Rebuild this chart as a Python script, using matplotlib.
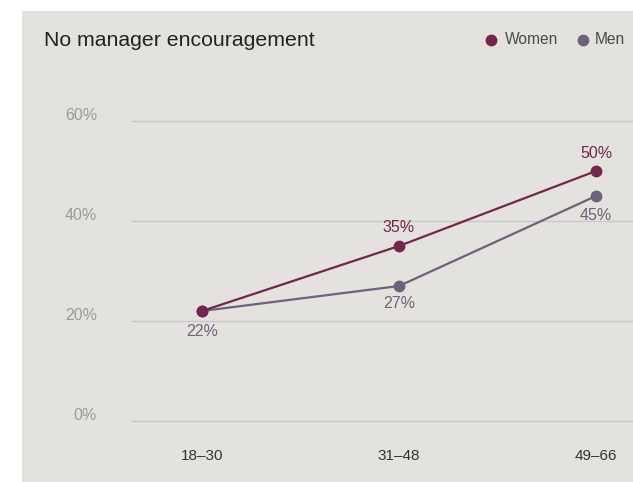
import matplotlib
matplotlib.use("Agg")
import matplotlib.pyplot as plt
from matplotlib.patches import Rectangle
from matplotlib.lines import Line2D

plt.rcParams['font.family'] = ['Liberation Sans', 'DejaVu Sans']

# Data
age_groups = ["18–30", "31–48", "49–66"]
women = [22, 35, 50]
men = [22, 27, 45]
y_ticks = [0, 20, 40, 60]
y_tick_labels = ["0%", "20%", "40%", "60%"]
title = "No manager encouragement"

WOMEN_C = "#73264a"
MEN_C = "#6e6179"
BG = "#e4e2df"
GRID_C = "#c8c8c6"

W, H = 633, 482
PX = 72 / 100  # points per pixel
fig = plt.figure(figsize=(W / 100, H / 100), dpi=100, facecolor="white")

# gray panel behind everything
panel = Rectangle((22 / W, 0), 1 - 22 / W, 1 - 11 / H,
                  transform=fig.transFigure, facecolor=BG,
                  edgecolor="none", zorder=-10)
fig.add_artist(panel)

# plot area: gridlines start at 132px, y=0 sits at 421px
ax = fig.add_axes([132 / W, (H - 421) / H, (633 - 132) / W, (421 - 60) / H])
ax.set_facecolor("none")
x = list(range(len(age_groups)))
ax.set_xlim((132 - 202) / 197, (633 - 202) / 197)
ax.set_ylim(0, (421 - 60) / 5)
ax.axis("off")

for t in y_ticks:
    ax.axhline(t, color=GRID_C, lw=1.0, zorder=1, clip_on=False)

ax.plot(x, men, color=MEN_C, lw=1.6, marker="o", ms=7.5, zorder=3, clip_on=False)
ax.plot(x, women, color=WOMEN_C, lw=1.6, marker="o", ms=7.5, zorder=4, clip_on=False)

# y tick labels, right-aligned and sitting just above each gridline
for t, lab in zip(y_ticks, y_tick_labels):
    ax.annotate(lab, xy=(0, t), xycoords=("axes fraction", "data"),
                xytext=(-35 * PX, 5.5 * PX), textcoords="offset points",
                ha="right", va="center", color="#9a9a9a", fontsize=11.5)

# x category labels
for xi, lab in zip(x, age_groups):
    ax.annotate(lab, xy=(xi, 0), xycoords="data",
                xytext=(0, -34.5 * PX), textcoords="offset points",
                ha="center", va="center", color="#333333", fontsize=11,
                annotation_clip=False)

# value labels
value_labels = [
    (x[0], men[0], -20.5, MEN_C),
    (x[1], women[1], 19, WOMEN_C),
    (x[1], men[1], -17, MEN_C),
    (x[2], women[2], 17.5, WOMEN_C),
    (x[2], men[2], -19, MEN_C),
]
for xi, v, dy, c in value_labels:
    ax.annotate(f"{v}%", (xi, v), xytext=(0, dy * PX), textcoords="offset points",
                ha="center", va="center", color=c, fontsize=11.5,
                annotation_clip=False)

# title
fig.text(44 / W, 1 - 46 / H, title, ha="left", va="baseline", fontsize=15.3, color="#222222")

# legend
for mx, tx, label, c in [(491, 505, "Women", WOMEN_C), (583, 595, "Men", MEN_C)]:
    fig.add_artist(Line2D([mx / W], [1 - 40 / H], transform=fig.transFigure,
                          marker="o", ms=7.5, color=c, lw=0))
    fig.text(tx / W, 1 - 40 / H, label, ha="left", va="center", fontsize=11.2, color="#4a4a4a")

fig.savefig("out.png", dpi=100, facecolor="white")
